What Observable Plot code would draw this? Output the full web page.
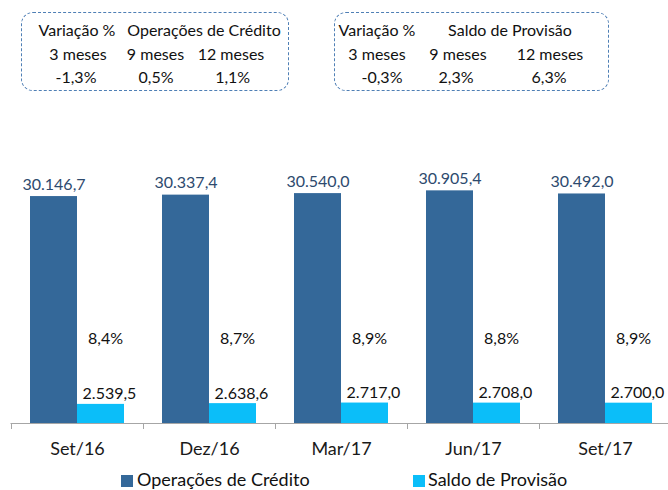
<!DOCTYPE html>
<html><head><meta charset="utf-8">
<script src="https://cdn.jsdelivr.net/npm/d3@7"></script>
<script src="https://cdn.jsdelivr.net/npm/@observablehq/plot@0.6"></script>
<style>
body{margin:0;background:#fff;font-family:Lato,sans-serif;}
#wrap{position:relative;width:668px;height:490px;overflow:hidden;background:#fff;}
#chart{position:absolute;left:0;top:0;}
.box{position:absolute;border:1px dashed #4f7fb5;border-radius:12px;box-sizing:border-box;}
.t{position:absolute;white-space:nowrap;color:#111;font-family:Lato,sans-serif;}
.sw{position:absolute;width:12px;height:12px;}
</style></head><body><div id="wrap"><div id="chart"></div></div>
<script>
// ---- data ----
const periods = ["Set/16","Dez/16","Mar/17","Jun/17","Set/17"];
const credito = [30146.7, 30337.4, 30540.0, 30905.4, 30492.0];
const provisao = [2539.5, 2638.6, 2717.0, 2708.0, 2700.0];
const razao = ["8,4%","8,7%","8,9%","8,8%","8,9%"];
const seriesNames = ["Operações de Crédito","Saldo de Provisão"];
const seriesColors = ["#346899","#0bbef9"];
const boxLead = "Variação %";
const horizons = ["3 meses","9 meses","12 meses"];
const varCredito = ["-1,3%","0,5%","1,1%"];
const varProvisao = ["-0,3%","2,3%","6,3%"];

const data = periods.map((p,i)=>({period:p, credito:credito[i], provisao:provisao[i], razao:razao[i]}));
const fmt = d3.formatLocale({decimal:",", thousands:".", grouping:[3], currency:["R$",""]}).format(",.1f");
const half = 47;

const chart = Plot.plot({
  width:668, height:462, marginTop:152, marginBottom:39, marginLeft:10.5, marginRight:-2.5,
  style:{fontFamily:"Lato, sans-serif", background:"transparent", overflow:"visible"},
  x:{domain:periods, paddingInner:0.288, paddingOuter:0.144, label:null},
  y:{domain:[0,36000], axis:null},
  marks:[
    Plot.barY(data,{x:"period", y:"credito", fill:seriesColors[0], insetRight:half}),
    Plot.barY(data,{x:"period", y:"provisao", fill:seriesColors[1], insetLeft:half}),
    Plot.ruleY([0],{stroke:"#a6a6a6"}),
    Plot.axisX({tickSize:0, tickPadding:19, fontSize:18, fill:"#1a1a1a", label:null}),
    Plot.axisX({tickSize:6, tickFormat:()=>"", dx:-66, stroke:"#a6a6a6", label:null}),
    Plot.text(data,{x:"period", y:"credito", text:d=>fmt(d.credito), dx:-23.5, dy:-7, lineAnchor:"bottom", fontSize:16, fill:"#2d4a6e"}),
    Plot.text(data,{x:"period", y:"provisao", text:d=>fmt(d.provisao), dx:32, dy:-5, lineAnchor:"bottom", fontSize:16, fill:"#111"}),
    Plot.text(data,{x:"period", frameAnchor:"bottom", text:"razao", dx:28, dy:-80, lineAnchor:"bottom", fontSize:16, fill:"#111"})
  ]
});
document.getElementById("chart").appendChild(chart);

// ---- boxes & legend (HTML) ----
const wrap = document.getElementById("wrap");
function addText(txt, x, baseline, size, anchor){
  const el = document.createElement("div");
  el.className = "t"; el.textContent = txt;
  el.style.fontSize = size+"px"; el.style.lineHeight = size+"px";
  el.style.top = (baseline - 0.887*size)+"px";
  el.style.left = x+"px";
  if(anchor==="middle") el.style.transform = "translateX(-50%)";
  wrap.appendChild(el);
}
function addBox(left, top, w, h){
  const b = document.createElement("div"); b.className="box";
  Object.assign(b.style,{left:left+"px", top:top+"px", width:w+"px", height:h+"px"});
  wrap.appendChild(b);
}
const boxes = [
  {left:21, w:268, lead:77, title:204, cols:[78,155.5,231], vcols:[76,156,232.7], vals:varCredito, name:seriesNames[0]},
  {left:334, w:275, lead:377, title:510, cols:[377,458,550], vcols:[382,456,549], vals:varProvisao, name:seriesNames[1]}
];
boxes.forEach(b=>{
  addBox(b.left, 12, b.w, 79);
  addText(boxLead, b.lead, 35.7, 16, "middle");
  addText(b.name, b.title, 35.7, 16, "middle");
  horizons.forEach((h,i)=>addText(h, b.cols[i], 60, 16, "middle"));
  b.vals.forEach((v,i)=>addText(v, b.vcols[i], 83, 16, "middle"));
});
const legendPos = [{sw:121, tx:137},{sw:413, tx:428}];
seriesNames.forEach((n,i)=>{
  const s = document.createElement("div"); s.className="sw";
  Object.assign(s.style,{left:legendPos[i].sw+"px", top:"475px", background:seriesColors[i]});
  wrap.appendChild(s);
  addText(n, legendPos[i].tx, 486, 18, "start");
});
</script></body></html>
